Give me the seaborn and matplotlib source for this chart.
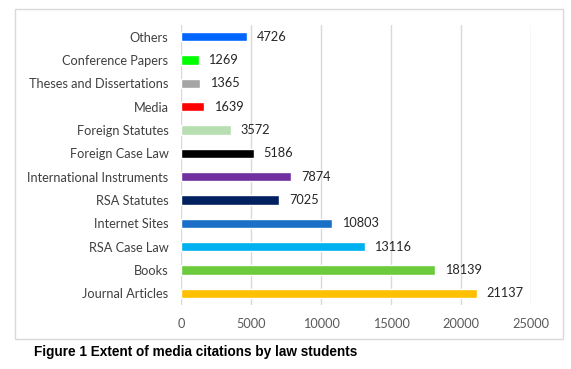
import matplotlib
matplotlib.use("Agg")
import matplotlib.pyplot as plt
import seaborn as sns
import pandas as pd
from matplotlib.patches import Rectangle

categories = ["Others", "Conference Papers", "Theses and Dissertations", "Media",
              "Foreign Statutes", "Foreign Case Law", "International Instruments",
              "RSA Statutes", "Internet Sites", "RSA Case Law", "Books", "Journal Articles"]
values = [4726, 1269, 1365, 1639, 3572, 5186, 7874, 7025, 10803, 13116, 18139, 21137]
colors = ["#0066FF", "#00FF00", "#A5A5A5", "#FF0000", "#B8DFB2", "#000000",
          "#7030A0", "#002060", "#1A70C6", "#00B0F0", "#6BCB3A", "#FFC000"]
xticks = [0, 5000, 10000, 15000, 20000, 25000]
caption = "Figure 1 Extent of media citations by law students"

sns.set_theme(style="white")
plt.rcParams['font.family'] = ['Lato', 'DejaVu Sans']

W, H = 571, 369
fig = plt.figure(figsize=(W/100, H/100), dpi=100)
ax = fig.add_axes([181/W, 1-305/H, 350/W, 280/H])

df = pd.DataFrame({"cat": categories, "val": values})
sns.barplot(data=df, y="cat", x="val", hue="cat", palette=colors, order=categories,
            hue_order=categories, legend=False, width=0.39, ax=ax, saturation=1)

ax.set_xlim(0, 25000)
ax.set_ylim(11.5, -0.5)
ax.set_xticks(xticks)
ax.set_xticklabels([str(t) for t in xticks])
ax.set_xlabel("")
ax.set_ylabel("")
for s in ax.spines.values():
    s.set_visible(False)
ax.xaxis.grid(True, color="#D9D9D9", linewidth=1)
ax.set_axisbelow(True)
ax.tick_params(axis="y", length=0, pad=9, labelsize=9.2, labelcolor="#404040")
ax.tick_params(axis="x", length=0, pad=9, labelsize=9.2, labelcolor="#595959")

for i, v in enumerate(values):
    ax.annotate(str(v), xy=(v, i), xytext=(7, 0), textcoords="offset points",
                va="center", ha="left", fontsize=9.2, color="#262626")

fig.patches.append(Rectangle((15/W, 1-339/H), 548/W, 330/H, transform=fig.transFigure,
                             fill=False, edgecolor="#D9D9D9", linewidth=1))
fig.text(34/W, 1-352/H, caption, ha="left", va="center", fontsize=9.8,
         fontweight="bold", family=["Liberation Sans", "DejaVu Sans"], color="#000000")

fig.savefig("out.png", dpi=100, facecolor="white")
